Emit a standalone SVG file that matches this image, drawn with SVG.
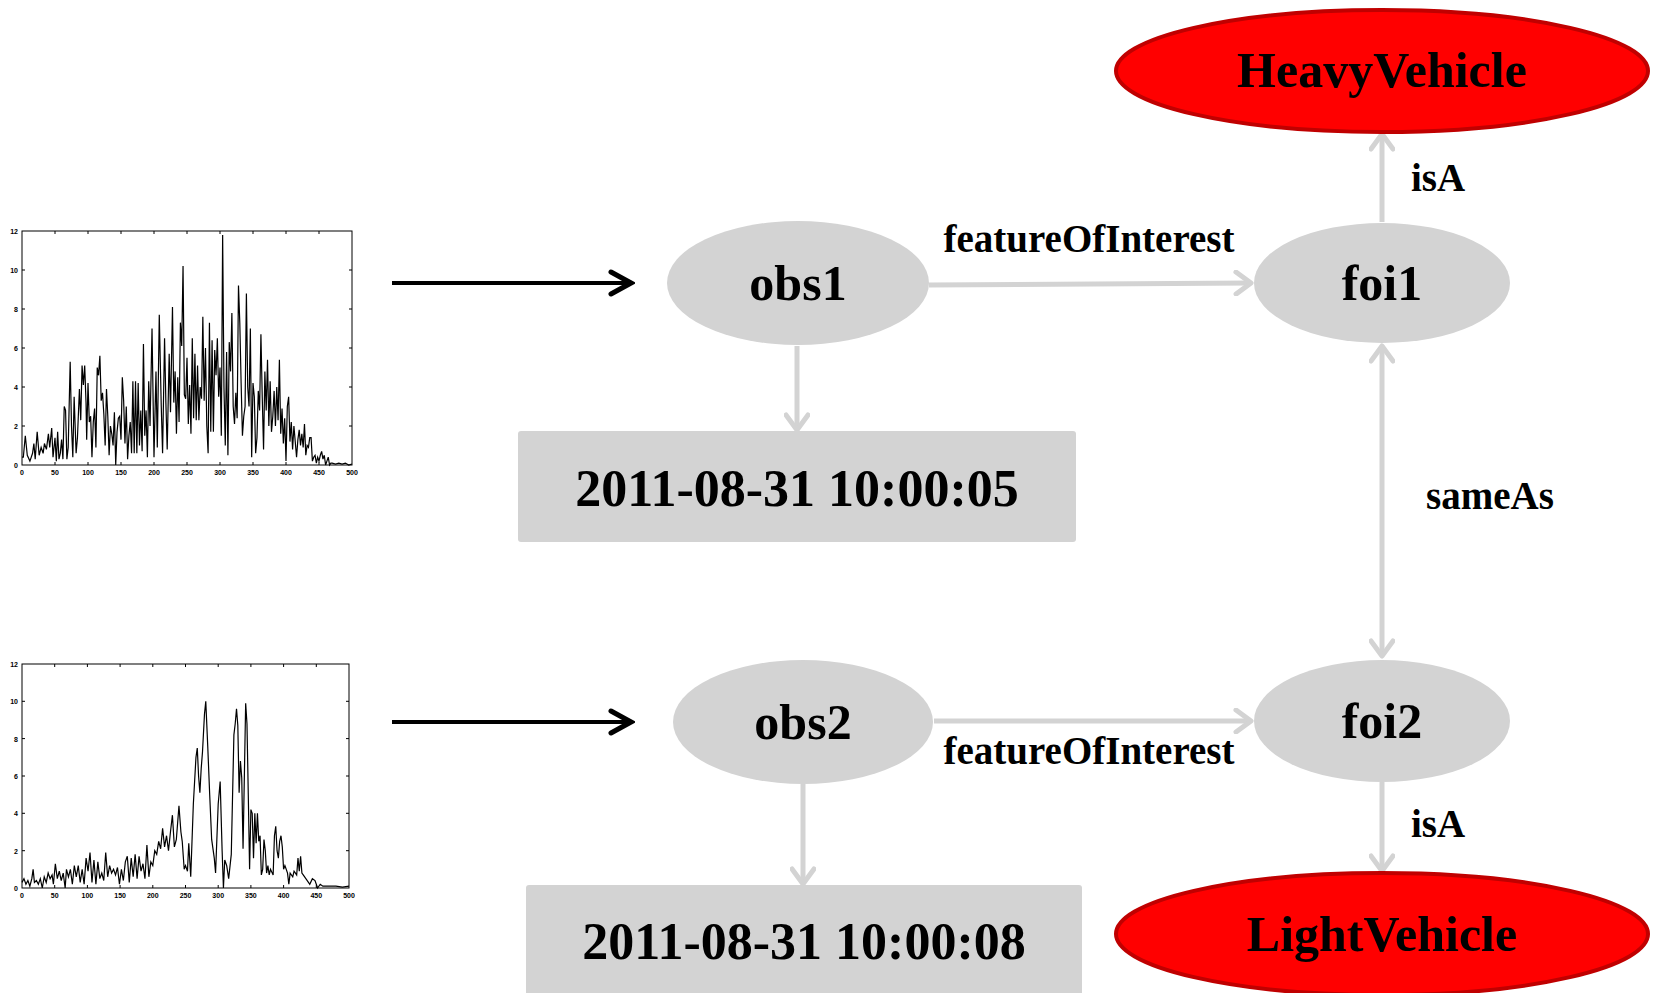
<svg xmlns="http://www.w3.org/2000/svg" width="1662" height="993" viewBox="0 0 1662 993">
<defs>
<style>
.node{fill:#D3D3D3;stroke:none}
.cls{fill:#FF0000;stroke:#C00000;stroke-width:4}
.lbl{font-family:"Liberation Serif","Times New Roman",serif;font-weight:bold;fill:#000;text-anchor:middle}
.big{font-size:50px}
.date{font-size:52px}
.edge{font-size:39px}
.conn{stroke:#D3D3D3;stroke-width:5;fill:none}
.blk{stroke:#000;stroke-width:4;fill:none}
.ax{fill:none;stroke:#000;stroke-width:1}
.tr{fill:none;stroke:#000;stroke-width:1.2}
.tk{font-family:"Liberation Sans",Arial,sans-serif;font-weight:bold;font-size:7px;fill:#000}
</style>
<marker id="ag" viewBox="0 0 26 26" markerWidth="26" markerHeight="26" refX="21" refY="13" orient="auto-start-reverse" markerUnits="userSpaceOnUse">
<path d="M6,2 L21,13 L6,24" fill="none" stroke="#D3D3D3" stroke-width="5" stroke-linecap="round" stroke-linejoin="round"/>
</marker>
<marker id="ab" viewBox="0 0 28 28" markerWidth="28" markerHeight="28" refX="24" refY="14" orient="auto" markerUnits="userSpaceOnUse">
<path d="M4,3 L24,14 L4,25" fill="none" stroke="#000" stroke-width="5" stroke-linecap="round" stroke-linejoin="miter"/>
</marker>
</defs>
<rect width="1662" height="993" fill="#fff"/>

<g id="chart1">
<rect class="ax" x="22" y="231" width="330" height="234"/>
<path class="ax" d="M55,465v-3M88,465v-3M121,465v-3M154,465v-3M187,465v-3M220,465v-3M253,465v-3M286,465v-3M319,465v-3M55,231v3M88,231v3M121,231v3M154,231v3M187,231v3M220,231v3M253,231v3M286,231v3M319,231v3M22,426h3M22,387h3M22,348h3M22,309h3M22,270h3M352,426h-3M352,387h-3M352,348h-3M352,309h-3M352,270h-3"/>
<polyline class="tr" vector-effect="non-scaling-stroke" transform="translate(22,465) scale(0.66,-19.5)" points="0,0.4 2,0.4 5,1.5 8,0.5 12,0.2 16,0.6 18,1.1 20,0.3 23,1.7 26,0.5 29,0.9 32,0.6 34,1.1 37,0.8 40,1.6 42,0.9 45,1.9 47,0.4 50,1.4 52,0.2 54,1.7 56,0.3 58,0.6 60,1.3 62,0.3 64,3.0 66,2.8 68,0.3 70,0.9 73,5.3 75,2.0 77,0.4 79,3.5 82,0.6 84,1.4 87,3.9 89,2.3 91,5.1 93,4.1 95,5.1 97,3.2 98,1.3 100,4.2 102,2.2 104,2.5 106,0.4 108,2.2 110,2.9 112,0.9 114,5.0 116,4.6 118,5.6 120,3.3 122,3.7 124,2.6 126,1.0 128,3.9 130,2.5 132,0.5 134,2.0 136,1.6 138,1.0 140,2.7 142,0 144,1.7 146,2.4 148,2.5 150,1.3 152,4.5 154,3.3 156,1.1 158,3.0 160,0.3 162,1.5 164,2.2 166,0.6 168,4.3 170,0.6 172,4.3 174,0.6 176,4.2 178,1.0 180,2.8 182,0.7 184,6.2 186,1.5 188,2.8 190,0.4 192,4.3 194,2.0 197,7.0 200,0.4 203,4.8 205,0.9 208,7.7 211,3.0 213,0.6 216,6.5 218,3.2 220,0.8 223,5.7 225,2.7 228,8.1 230,3.2 232,4.8 234,1.6 236,4.5 238,2.2 240,7.3 242,6.1 244,10.2 246,3.6 248,3.4 250,5.5 252,2.1 254,4.1 256,1.6 258,6.5 260,2.4 262,5.7 264,2.3 266,5.1 268,2.3 270,4.0 272,3.4 274,7.6 276,3.3 278,6.0 280,2.0 282,0.6 284,7.3 286,1.7 288,6.4 290,1.7 292,5.9 294,4.6 296,6.5 298,3.5 300,5.0 302,1.5 304,11.8 306,4.0 308,1.0 310,5.8 312,0.5 314,6.3 316,4.8 318,7.8 320,3.0 322,2.1 324,3.7 326,2.4 328,9.2 330,7.3 332,4.2 334,1.5 336,2.5 338,3.0 340,8.8 342,4.0 344,3.0 346,7.0 348,0.4 350,4.2 352,3.5 354,0.6 356,1.4 358,3.8 360,2.8 362,6.7 364,3.5 366,0.8 368,4.8 370,2.8 372,5.4 374,2.0 376,4.3 378,1.7 380,2.5 382,3.8 384,2.0 386,4.0 388,2.3 390,5.4 392,1.6 394,2.9 396,1.1 398,2.4 400,0.2 402,3.0 404,3.5 406,1.2 408,2.2 410,0.8 412,2.0 414,1.2 416,0.4 418,1.3 420,1.8 422,1.0 424,1.6 426,0.9 428,2.1 430,0.5 432,1.0 434,0.9 436,1.4 438,1.4 440,0.2 442,0.4 444,0.5 446,0.1 448,0.4 450,0.2 452,0.5 454,0.7 456,0.3 458,0.5 460,0 462,0.2 464,0.4 466,0 468,0.1 470,0.1 475,0.05 480,0.1 485,0.05 490,0.1 495,0 500,0.05"/>
<g class="tk" text-anchor="end">
<text x="18" y="468">0</text><text x="18" y="429">2</text><text x="18" y="390">4</text><text x="18" y="351">6</text><text x="18" y="312">8</text><text x="18" y="273">10</text><text x="18" y="234">12</text>
</g>
<g class="tk" text-anchor="middle">
<text x="22" y="475">0</text><text x="55" y="475">50</text><text x="88" y="475">100</text><text x="121" y="475">150</text><text x="154" y="475">200</text><text x="187" y="475">250</text><text x="220" y="475">300</text><text x="253" y="475">350</text><text x="286" y="475">400</text><text x="319" y="475">450</text><text x="352" y="475">500</text>
</g>
</g>

<g id="chart2">
<rect class="ax" x="22" y="664" width="327" height="224"/>
<path class="ax" d="M54.7,888v-3M87.4,888v-3M120.1,888v-3M152.8,888v-3M185.5,888v-3M218.2,888v-3M250.9,888v-3M283.6,888v-3M316.3,888v-3M54.7,664v3M87.4,664v3M120.1,664v3M152.8,664v3M185.5,664v3M218.2,664v3M250.9,664v3M283.6,664v3M316.3,664v3M22,850.7h3M22,813.3h3M22,776h3M22,738.6h3M22,701.3h3M349,850.7h-3M349,813.3h-3M349,776h-3M349,738.6h-3M349,701.3h-3"/>
<polyline class="tr" vector-effect="non-scaling-stroke" transform="translate(22,888) scale(0.654,-18.67)" points="0,0.3 3,0.5 6,0.2 9,0.4 12,0.1 15,0.5 17,1.0 19,0.3 22,0.4 25,0.2 28,0.5 31,0 34,0.6 37,0.3 40,0.8 43,0.5 46,0.7 48,0.2 51,1.3 54,0.5 57,0.9 60,0.4 63,0.8 66,0 68,1.0 71,0.6 74,1.0 77,0.2 80,1.2 83,0.6 86,1.2 89,0.3 92,1.0 95,0.2 98,1.6 101,0.9 104,1.9 107,0.3 110,1.5 113,0.2 116,1.4 119,0.5 122,0.8 125,0.4 128,1.9 131,0.6 134,1.2 137,0.8 140,1.0 143,0.7 146,1.1 149,0.2 152,1.0 155,0.4 158,1.4 161,1.7 164,0.3 167,1.6 170,0.6 173,1.8 176,0.5 179,1.7 182,0.9 185,1.3 188,0.5 191,2.3 194,0.6 197,1.4 200,1.2 203,2.0 206,1.8 209,2.5 212,2.1 215,3.2 218,2.2 221,2.8 224,2.0 227,3.0 230,3.9 233,2.2 236,2.6 240,4.4 243,3.0 245,2.5 248,1.0 250,1.2 253,0.9 255,2.4 258,0.6 262,4.5 266,7.0 268,7.5 270,6.0 272,5.1 274,6.4 276,7.3 279,9.3 281,10.0 284,7.6 287,5.0 290,2.6 294,1.6 296,0.8 300,4.5 303,5.7 306,2.0 308,0 310,1.5 313,1.2 316,0.5 320,1.8 324,8.2 326,8.8 328,9.6 330,8.7 332,5.1 334,6.8 336,5.9 338,2.1 342,9.9 344,8.8 346,5.0 348,1.0 350,4.2 352,4.0 354,1.6 356,4.0 358,2.4 360,4.0 362,2.5 364,2.8 366,0.7 368,1.0 370,2.6 372,2.0 374,0.8 376,1.2 378,0.7 380,1.0 384,0.7 386,2.8 388,3.3 390,2.0 392,1.6 394,2.5 396,2.8 398,2.2 400,1.0 402,1.2 406,0.8 408,0.2 410,0.8 414,0.6 416,0.9 420,0.7 422,1.6 424,0.9 426,1.7 428,0.8 430,0.7 434,0.5 438,0.3 440,0.2 444,0.5 448,0.4 450,0.2 452,0 456,0.2 460,0.1 470,0.1 480,0.1 490,0.05 500,0.1"/>
<g class="tk" text-anchor="end">
<text x="18" y="891">0</text><text x="18" y="853.7">2</text><text x="18" y="816.3">4</text><text x="18" y="779">6</text><text x="18" y="741.6">8</text><text x="18" y="704.3">10</text><text x="18" y="667">12</text>
</g>
<g class="tk" text-anchor="middle">
<text x="22" y="898">0</text><text x="54.7" y="898">50</text><text x="87.4" y="898">100</text><text x="120.1" y="898">150</text><text x="152.8" y="898">200</text><text x="185.5" y="898">250</text><text x="218.2" y="898">300</text><text x="250.9" y="898">350</text><text x="283.6" y="898">400</text><text x="316.3" y="898">450</text><text x="349" y="898">500</text>
</g>
</g>

<g id="connectors">
<line class="blk" x1="392" y1="283" x2="631" y2="283" marker-end="url(#ab)"/>
<line class="blk" x1="392" y1="722" x2="631" y2="722" marker-end="url(#ab)"/>
<line class="conn" x1="929" y1="285" x2="1251" y2="283" marker-end="url(#ag)"/>
<line class="conn" x1="934" y1="721" x2="1251" y2="721" marker-end="url(#ag)"/>
<line class="conn" x1="797" y1="346" x2="797" y2="430" marker-end="url(#ag)"/>
<line class="conn" x1="803" y1="784" x2="803" y2="884" marker-end="url(#ag)"/>
<line class="conn" x1="1382" y1="222" x2="1382" y2="134" marker-end="url(#ag)"/>
<line class="conn" x1="1382" y1="346" x2="1382" y2="656" marker-start="url(#ag)" marker-end="url(#ag)"/>
<line class="conn" x1="1382" y1="782" x2="1382" y2="871" marker-end="url(#ag)"/>
<text class="lbl edge" x="1089" y="252">featureOfInterest</text>
<text class="lbl edge" x="1089" y="764">featureOfInterest</text>
<text class="lbl edge" x="1438" y="191">isA</text>
<text class="lbl edge" x="1490" y="509">sameAs</text>
<text class="lbl edge" x="1438" y="837">isA</text>
</g>

<g id="HeavyVehicle">
<ellipse class="cls" cx="1382" cy="71" rx="266" ry="61"/>
<text class="lbl big" x="1382" y="87">HeavyVehicle</text>
</g>
<g id="foi1">
<ellipse class="node" cx="1382" cy="283" rx="128" ry="60"/>
<text class="lbl big" x="1382" y="300">foi1</text>
</g>
<g id="obs1">
<ellipse class="node" cx="798" cy="283" rx="131" ry="62"/>
<text class="lbl big" x="798" y="300">obs1</text>
</g>
<g id="date1">
<rect class="node" x="518" y="431" width="558" height="111" rx="3"/>
<text class="lbl date" x="797" y="506">2011-08-31 10:00:05</text>
</g>
<g id="obs2">
<ellipse class="node" cx="803" cy="722" rx="130" ry="62"/>
<text class="lbl big" x="803" y="739">obs2</text>
</g>
<g id="foi2">
<ellipse class="node" cx="1382" cy="721" rx="128" ry="61"/>
<text class="lbl big" x="1382" y="738">foi2</text>
</g>
<g id="date2">
<rect class="node" x="526" y="885" width="556" height="115" rx="3"/>
<text class="lbl date" x="804" y="959">2011-08-31 10:00:08</text>
</g>
<g id="LightVehicle">
<ellipse class="cls" cx="1382" cy="934" rx="266" ry="61"/>
<text class="lbl big" x="1382" y="951">LightVehicle</text>
</g>
</svg>
